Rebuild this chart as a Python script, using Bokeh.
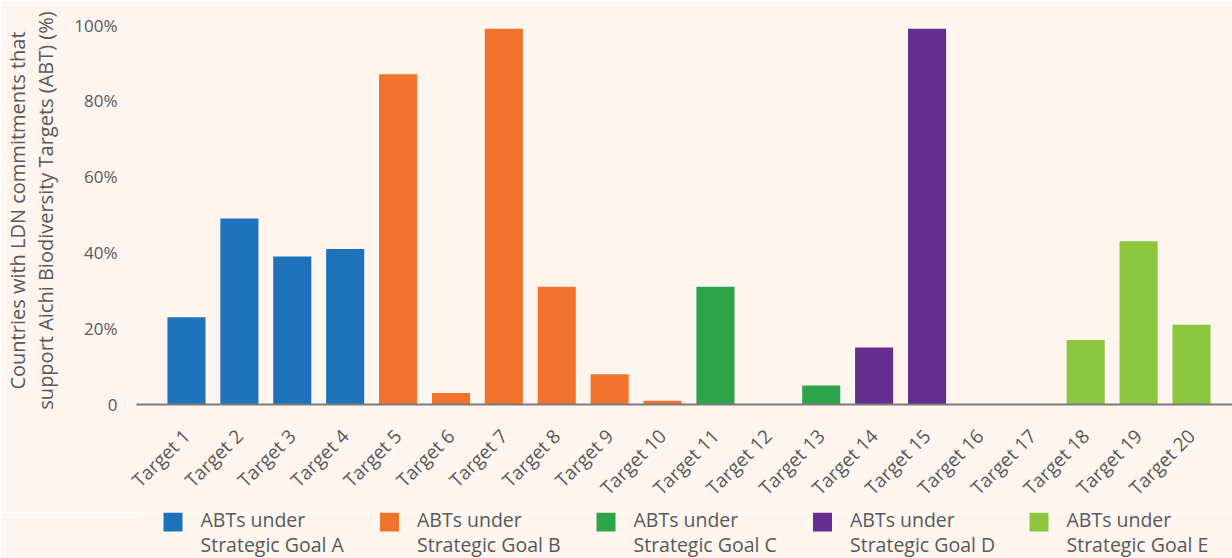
from bokeh.plotting import figure
from bokeh.layouts import column
from bokeh.models import ColumnDataSource, FixedTicker, Range1d
from bokeh.core.properties import value
from bokeh.embed import file_html
from bokeh.resources import INLINE

targets = [f"Target {i}" for i in range(1, 21)]
values = [23, 49, 39, 41, 87, 3, 99, 31, 8, 1, 31, 0, 5, 15, 99, 0, 0, 17, 43, 21]
goals = ["A"] * 4 + ["B"] * 6 + ["C"] * 3 + ["D"] * 3 + ["E"] * 4
goal_names = ["A", "B", "C", "D", "E"]
legend_line1 = ["ABTs under"] * 5
legend_line2 = [f"Strategic Goal {g}" for g in goal_names]
goal_colors = ["#1D72BB", "#F3722B", "#2EA44A", "#652D90", "#8DC63F"]
y_ticks = [0, 20, 40, 60, 80, 100]
y_tick_labels = ["0", "20%", "40%", "60%", "80%", "100%"]

BG = "#FEF5EF"
TXT = "#58595B"
FONT = "Open Sans"
W = 1232
LEFT = 136
MAIN_H = 512
LH = 558 - MAIN_H

p = figure(width=W, height=MAIN_H, output_backend="svg", toolbar_location=None,
           x_range=Range1d(0.055, 20.775), y_range=Range1d(0, 102.24),
           min_border_left=LEFT, min_border_right=0, min_border_top=16, min_border_bottom=108,
           background_fill_color=BG, border_fill_color=BG, outline_line_color=None)

xs = list(range(1, len(targets) + 1))
for g, col in zip(goal_names, goal_colors):
    idx = [i for i, gg in enumerate(goals) if gg == g]
    src = ColumnDataSource(dict(x=[xs[i] for i in idx], top=[values[i] for i in idx]))
    p.vbar(x="x", top="top", bottom=0, width=0.72, source=src,
           fill_color=col, line_color=None)

p.xgrid.visible = False
p.ygrid.visible = False

xa = p.xaxis[0]
xa.ticker = FixedTicker(ticks=xs)
xa.major_label_overrides = {x: t for x, t in zip(xs, targets)}
xa.major_label_orientation = 0.785398
xa.major_tick_line_color = None
xa.major_tick_out = 0
xa.major_tick_in = 0
xa.minor_tick_line_color = None
xa.minor_tick_out = 0
xa.axis_line_color = "#7A7A7A"
xa.axis_line_width = 2
xa.major_label_text_font = FONT
xa.major_label_text_font_size = "19px"
xa.major_label_text_color = TXT
xa.major_label_standoff = 28

ya = p.yaxis[0]
ya.ticker = FixedTicker(ticks=y_ticks)
ya.major_label_overrides = {t: l for t, l in zip(y_ticks, y_tick_labels)}
ya.axis_line_color = None
ya.major_tick_line_color = None
ya.major_tick_out = 0
ya.major_tick_in = 0
ya.minor_tick_line_color = None
ya.minor_tick_out = 0
ya.major_label_text_font = FONT
ya.major_label_text_font_size = "17px"
ya.major_label_text_color = TXT
ya.major_label_standoff = 19
ya.axis_label = "Countries with LDN commitments that\nsupport Aichi Biodiversity Targets (ABT) (%)"
ya.axis_label_text_font = FONT
ya.axis_label_text_font_size = "20px"
ya.axis_label_text_font_style = "normal"
ya.axis_label_text_color = TXT
ya.axis_label_text_line_height = 1.05
ya.axis_label_standoff = 12

# legend strip (its frame is aligned with the chart's frame by the column layout)
lg = figure(width=W, height=LH, output_backend="svg", toolbar_location=None,
            x_range=Range1d(LEFT, W), y_range=Range1d(0, LH),
            x_axis_type=None, y_axis_type=None,
            min_border=0, min_border_left=LEFT,
            background_fill_color=BG, border_fill_color=BG,
            outline_line_color=None)
lg.xgrid.visible = False
lg.ygrid.visible = False
item_x = [163 + 216.5 * i for i in range(len(goal_names))]
lsrc = ColumnDataSource(dict(
    sx=[x + 9.5 for x in item_x], tx=[x + 37 for x in item_x],
    color=goal_colors, l1=legend_line1, l2=legend_line2))
lg.rect(x="sx", y=36.5, width=19, height=19, width_units="screen", height_units="screen",
        fill_color="color", line_color=None, source=lsrc)
lg.text(x="tx", y=39, text="l1", source=lsrc, text_font=value(FONT), text_font_size="19.5px",
        text_color=TXT, text_baseline="alphabetic", text_align="left")
lg.text(x="tx", y=14.5, text="l2", source=lsrc, text_font=value(FONT), text_font_size="19.5px",
        text_color=TXT, text_baseline="alphabetic", text_align="left")

layout = column(p, lg, spacing=0)
open("out.html", "w").write(file_html(layout, INLINE))
